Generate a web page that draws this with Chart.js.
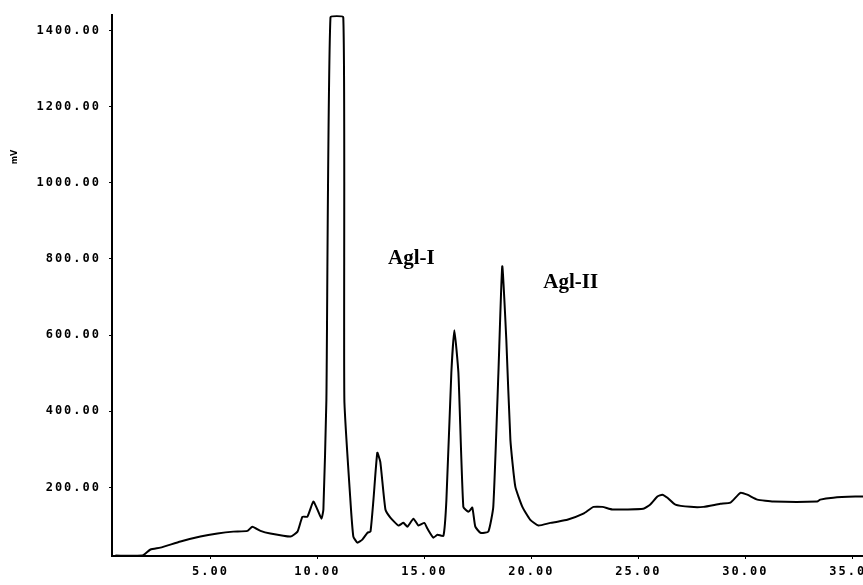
<!DOCTYPE html>
<html>
<head>
<meta charset="utf-8">
<script src="https://cdn.jsdelivr.net/npm/chart.js@4"></script>
<style>
  html, body { margin: 0; padding: 0; background: #fff; overflow: hidden; width: 863px; height: 585px; }
  canvas { display: block; }
</style>
</head>
<body>
<canvas id="c" width="900" height="585"></canvas>
<script>
// Retention time (min)
const times = [0.56, 1.82, 2.20, 2.66, 3.60, 4.53, 5.33, 6.07, 6.73, 6.96, 7.34, 7.80, 8.74, 9.07, 9.30, 9.53, 9.81, 10.00, 10.19, 10.28, 10.42, 10.61, 11.21, 11.26, 11.54, 11.68, 11.87, 12.10, 12.34, 12.48, 12.62, 12.80, 12.94, 13.18, 13.41, 13.79, 14.02, 14.21, 14.49, 14.72, 15.00, 15.14, 15.42, 15.61, 15.89, 16.03, 16.26, 16.40, 16.59, 16.82, 17.06, 17.24, 17.38, 17.62, 17.99, 18.22, 18.46, 18.64, 18.83, 19.02, 19.25, 19.58, 19.95, 20.33, 20.89, 21.21, 21.68, 22.43, 22.90, 23.32, 23.79, 25.23, 25.56, 25.89, 26.12, 26.36, 26.73, 27.43, 28.04, 28.83, 29.30, 29.77, 30.09, 30.56, 31.31, 33.36, 33.50, 34.11, 35.14, 35.51];
// Detector signal (mV)
const signal = [21, 21, 37, 42, 58, 71, 79, 84, 86, 97, 86, 79, 71, 84, 123, 123, 163, 142, 118, 142, 430, 1434, 1434, 430, 168, 71, 55, 63, 81, 84, 168, 291, 267, 142, 121, 100, 107, 97, 118, 100, 107, 92, 68, 76, 73, 168, 501, 613, 501, 149, 136, 147, 97, 81, 84, 149, 501, 781, 587, 325, 202, 149, 115, 100, 107, 110, 115, 131, 149, 149, 142, 144, 155, 176, 181, 173, 155, 149, 149, 157, 160, 186, 181, 168, 163, 163, 168, 173, 176, 176];

const xTicks = [5, 10, 15, 20, 25, 30, 35];
const yTicks = [200, 400, 600, 800, 1000, 1200, 1400];
const peakLabels = ['Agl-I', 'Agl-II'];
const peakLabelAt = [[13.3, 802], [20.56, 739]];
const yUnit = 'mV';

const points = times.map((t, i) => ({ x: t, y: signal[i] }));

const tickFont = { family: 'DejaVu Sans Mono', size: 12, weight: 'bold' };

const decorPlugin = {
  id: 'decor',
  beforeDraw(chart) {
    chart.ctx.letterSpacing = '2px';
  },
  afterDraw(chart) {
    const ctx = chart.ctx;
    const xs = chart.scales.x, ys = chart.scales.y;
    ctx.save();
    ctx.letterSpacing = '0px';
    ctx.fillStyle = '#000';
    ctx.font = 'bold 21px "Liberation Serif"';
    ctx.textAlign = 'left';
    ctx.textBaseline = 'middle';
    peakLabels.forEach((txt, i) => {
      ctx.fillText(txt, xs.getPixelForValue(peakLabelAt[i][0]), ys.getPixelForValue(peakLabelAt[i][1]));
    });
    ctx.translate(15, 157);
    ctx.rotate(-Math.PI / 2);
    ctx.font = 'bold 8px "DejaVu Sans"';
    ctx.textAlign = 'center';
    ctx.fillText(yUnit, 0, 0);
    ctx.restore();
  }
};

new Chart(document.getElementById('c'), {
  type: 'line',
  data: {
    datasets: [{
      data: points,
      borderColor: '#000',
      borderWidth: 2,
      pointRadius: 0,
      tension: 0.15,
      fill: false
    }]
  },
  options: {
    responsive: false,
    animation: false,
    layout: { padding: { left: 0, right: 37, top: 15, bottom: 0 } },
    plugins: { legend: { display: false }, tooltip: { enabled: false } },
    scales: {
      x: {
        type: 'linear',
        min: 0.4,
        max: 35.5,
        afterBuildTicks: s => { s.ticks = xTicks.map(v => ({ value: v })); },
        afterFit: s => { s.height = 29; },
        border: { display: true, color: '#000', width: 2 },
        grid: { display: true, drawOnChartArea: false, drawTicks: true, tickLength: 3, color: '#000' },
        ticks: { color: '#000', font: tickFont, padding: 6, maxRotation: 0, autoSkip: false, callback: v => v.toFixed(2) }
      },
      y: {
        type: 'linear',
        min: 20,
        max: 1440,
        afterBuildTicks: s => { s.ticks = yTicks.map(v => ({ value: v })); },
        afterFit: s => { s.width = 112; },
        border: { display: true, color: '#000', width: 2 },
        grid: { display: true, drawOnChartArea: false, drawTicks: true, tickLength: 3, color: '#000' },
        ticks: { color: '#000', font: tickFont, padding: 8, callback: v => v.toFixed(2) }
      }
    }
  },
  plugins: [decorPlugin]
});
</script>
</body>
</html>
